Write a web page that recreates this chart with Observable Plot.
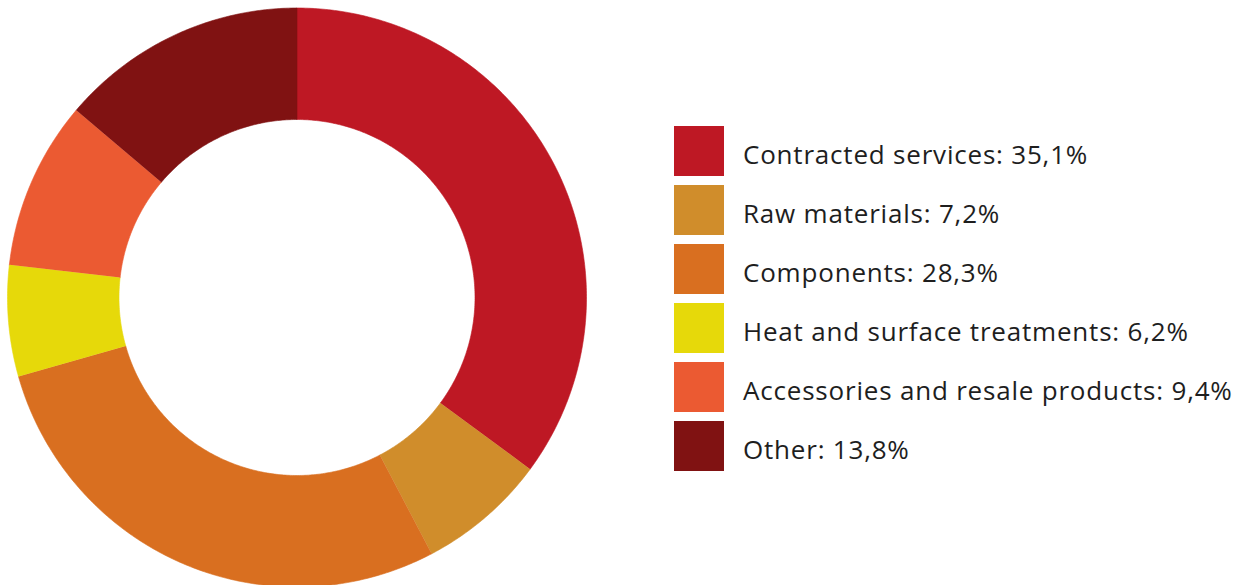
<!DOCTYPE html>
<html>
<head>
<meta charset="utf-8">
<script src="https://cdn.jsdelivr.net/npm/d3@7"></script>
<script src="https://cdn.jsdelivr.net/npm/@observablehq/plot@0.6"></script>
<style>
  html, body { margin: 0; padding: 0; background: #fff; }
  #wrap { position: relative; width: 1252px; height: 585px; overflow: hidden; }
  #legend { position: absolute; left: 674px; top: 126px; font-family: "Open Sans", sans-serif; font-size: 26px; letter-spacing: 0.8px; color: #1e1e1e; }
  .row { display: flex; align-items: center; height: 50px; margin-bottom: 9px; }
  .sw { width: 50px; height: 50px; flex: none; }
  .lab { margin-left: 19px; white-space: nowrap; position: relative; top: 3px; }
</style>
</head>
<body>
<div id="wrap"><div id="chart"></div><div id="legend"></div></div>
<script>
const categories = ["Contracted services", "Raw materials", "Components", "Heat and surface treatments", "Accessories and resale products", "Other"];
const values = [35.1, 7.2, 28.3, 6.2, 9.4, 13.8];
const labels = ["35,1%", "7,2%", "28,3%", "6,2%", "9,4%", "13,8%"];
const colors = ["#BE1824", "#D08D2B", "#D96F20", "#E6D90A", "#EB5A32", "#801212"];

const W = 1252, H = 585;
const cx = 296.5, cy = 297, R = 289.5, innerFrac = 178 / 289.5;

const data = categories.map((c, i) => ({category: c, value: values[i], label: labels[i]}));
const arcs = d3.pie().sort(null).value(d => d.value)(data);

// polygon outline for each slice, in unit-radius coordinates
const pts = [];
arcs.forEach(a => {
  const n = Math.max(8, Math.ceil((a.endAngle - a.startAngle) / 0.01));
  for (let k = 0; k <= n; k++) {
    const t = a.startAngle + (a.endAngle - a.startAngle) * k / n;
    pts.push({category: a.data.category, x: Math.sin(t), y: -Math.cos(t)});
  }
  for (let k = n; k >= 0; k--) {
    const t = a.startAngle + (a.endAngle - a.startAngle) * k / n;
    pts.push({category: a.data.category, x: innerFrac * Math.sin(t), y: -innerFrac * Math.cos(t)});
  }
});

const chart = Plot.plot({
  width: W, height: H,
  margin: 0,
  x: {domain: [-cx / R, (W - cx) / R], range: [0, W], axis: null},
  y: {domain: [-cy / R, (H - cy) / R], range: [0, H], axis: null},
  color: {domain: categories, range: colors},
  marks: [
    Plot.line(pts, {x: "x", y: "y", z: "category", fill: "category", stroke: "category", strokeWidth: 0.6, curve: "linear"})
  ]
});
document.getElementById("chart").appendChild(chart);

const color = chart.scale("color");
const legend = document.getElementById("legend");
data.forEach(d => {
  const row = document.createElement("div");
  row.className = "row";
  const sw = document.createElement("div");
  sw.className = "sw";
  sw.style.background = color.apply(d.category);
  const lab = document.createElement("div");
  lab.className = "lab";
  lab.textContent = `${d.category}: ${d.label}`;
  row.appendChild(sw); row.appendChild(lab);
  legend.appendChild(row);
});
</script>
</body>
</html>
